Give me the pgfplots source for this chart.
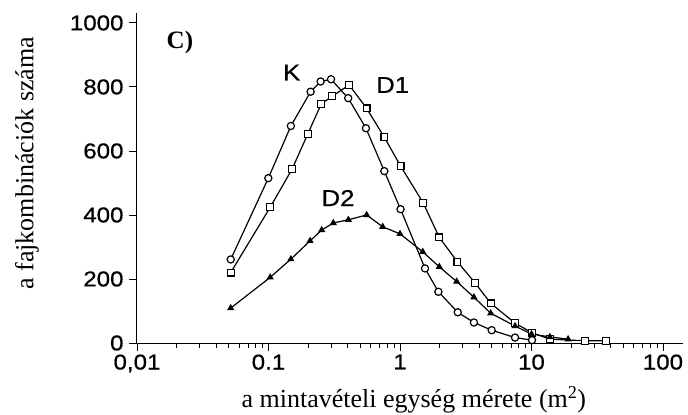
\documentclass[border=0pt]{standalone}
\usepackage{fontspec}
\setmainfont{Liberation Serif}
\newfontfamily\tickfont[FakeStretch=1.12, FakeBold=0.6]{Liberation Sans}
\usepackage{pgfplots}
\pgfplotsset{compat=1.18}
\pgfplotstableread{
x y
0.0516 261
0.0997 515
0.148 678
0.209 785
0.249 817
0.299 824
0.404 765
0.551 671
0.760 537
1.01 418
1.55 233
1.96 160
2.75 96
3.65 64
4.98 40
7.5 17
10.1 9
}\Kdata
\pgfplotstableread{
x y
0.0516 220
0.103 424
0.151 543
0.199 653
0.252 747
0.305 771
0.411 806
0.558 733
0.76 643
1.01 553
1.50 438
1.99 330
2.73 254
3.72 188
4.9 124
7.5 62
10.1 32
13.8 12
25.5 7
37 7
}\Done
\pgfplotstableread{
x y
0.0516 109
0.103 205
0.148 262
0.207 319
0.254 353
0.311 375
0.405 385
0.558 400
0.739 363
1.0 341
1.49 285
1.99 238
2.70 192
3.65 143
4.9 93
7.5 53
10 28
13.8 19
19 12
}\Dtwo
\begin{document}
\begin{tikzpicture}
\useasboundingbox (-137bp,-72bp) rectangle (551bp,343bp);
\begin{semilogxaxis}[
  at={(0,0)}, anchor=south west,
  width=546bp, height=330bp, scale only axis,
  xmin=0.01, xmax=142, ymin=0, ymax=1031,
  axis x line=bottom, axis y line=left,
  axis line style={-, line width=1bp, black},
  tick align=outside,
  xtick={0.01,0.1,1,10,100}, xticklabels={{0,01},0.1,1,10,100},
  minor xtick={0.02,0.03,0.04,0.05,0.06,0.07,0.08,0.09,0.2,0.3,0.4,0.5,0.6,0.7,0.8,0.9,2,3,4,5,6,7,8,9,20,30,40,50,60,70,80,90},
  ytick={0,200,400,600,800,1000}, yticklabels={0,200,400,600,800,1000},
  major tick length=8bp, minor tick length=5bp,
  every tick/.style={line width=0.9bp, black},
  tick label style={font=\tickfont\fontsize{21.5bp}{23bp}\selectfont},
  xticklabel style={yshift=0bp},
  yticklabel style={xshift=-2bp},
  clip=false,
  xlabel={a mintavételi egység mérete (m\textsuperscript{2})},
  ylabel={a fajkombinációk száma},
  xlabel style={font=\fontsize{26bp}{30bp}\selectfont, at={(axis description cs:0.507,0)}, anchor=base, yshift=-64bp},
  ylabel style={font=\fontsize{26bp}{30bp}\selectfont, at={(axis description cs:-0.19,0.545)}, anchor=base},
  every axis plot/.append style={black, line width=1.2bp, mark options={solid, line width=0.9bp}},
]
\addplot[mark=*, mark size=3.6bp, mark options={fill=white}] table[x=x,y=y] {\Kdata};
\addplot[mark=square*, mark size=3.4bp, mark options={fill=white}] table[x=x,y=y] {\Done};
\addplot[mark=triangle*, mark size=3bp, mark options={fill=black}] table[x=x,y=y] {\Dtwo};
\node[font=\tickfont\fontsize{23bp}{25bp}\selectfont] at (axis cs:0.15,845) {K};
\node[font=\tickfont\fontsize{23bp}{25bp}\selectfont] at (axis cs:0.88,806) {D1};
\node[font=\tickfont\fontsize{23bp}{25bp}\selectfont] at (axis cs:0.338,453) {D2};
\node[font=\fontsize{25bp}{28bp}\selectfont\bfseries] at (axis cs:0.0212,940) {C)};
\end{semilogxaxis}
\end{tikzpicture}
\end{document}
